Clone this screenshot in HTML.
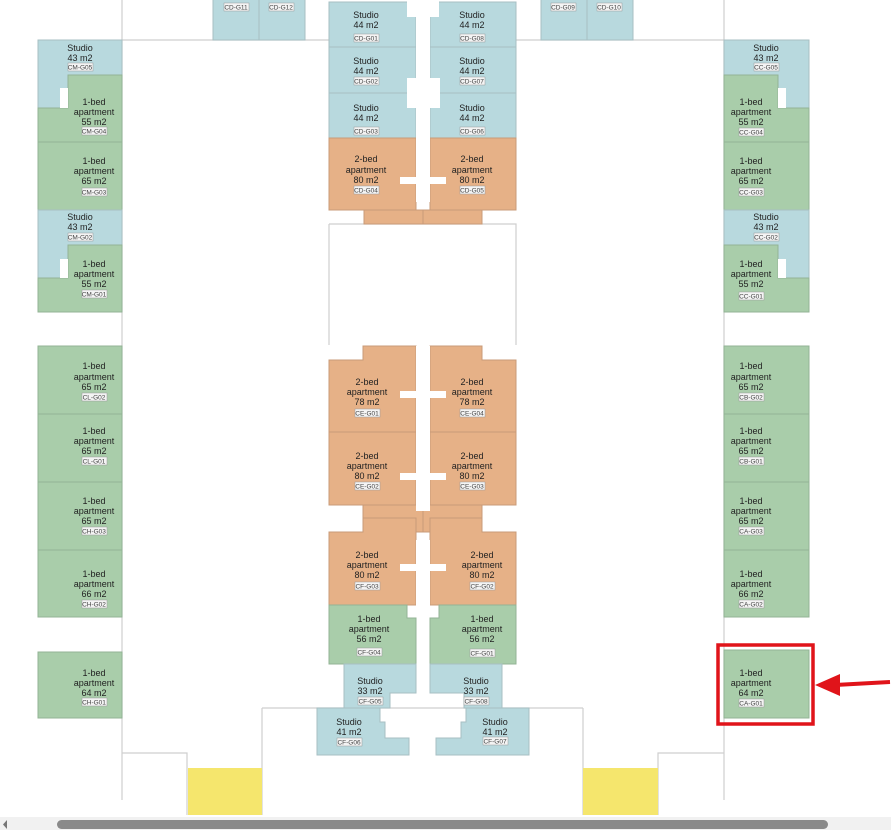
<!DOCTYPE html>
<html><head><meta charset="utf-8"><style>
html,body{margin:0;padding:0;background:#fff;}
svg{display:block;font-family:"Liberation Sans",sans-serif;}
.b{fill:#b8d9de;stroke:#a7bfc3;stroke-width:1}
.g{fill:#a9cdaa;stroke:#93b395;stroke-width:1}
.o{fill:#e6b187;stroke:#c89b78;stroke-width:1}
.w{fill:#fff}
.l{stroke:#cfcfcf;stroke-width:1.2;fill:none}
text{font-size:9px;fill:#222;text-anchor:middle}
.t{font-size:6.5px;fill:#444}
.tb{fill:#f4f4f4;stroke:#999;stroke-width:.5}
</style></head><body>
<svg width="891" height="830" viewBox="0 0 891 830">
<!-- outline lines -->
<path class="l" d="M122 0V800M724 0V800M122 40H329M516 40H724M329 224H516V345M329 224V345M262 708H583M262 708V815M583 708V815M122 753H187V815M724 753H658V815"/>
<!-- top small units -->
<rect class="b" x="213" y="-1" width="46" height="41"/><rect class="b" x="259" y="-1" width="46" height="41"/>
<rect class="b" x="541" y="-1" width="46" height="41"/><rect class="b" x="587" y="-1" width="46" height="41"/>
<g class="t"><rect class="tb" x="224" y="3" width="25" height="8"/><text class="t" x="236" y="9.5">CD-G11</text>
<rect class="tb" x="269" y="3" width="25" height="8"/><text class="t" x="281" y="9.5">CD-G12</text>
<rect class="tb" x="551" y="3" width="25" height="8"/><text class="t" x="563" y="9.5">CD-G09</text>
<rect class="tb" x="597" y="3" width="25" height="8"/><text class="t" x="609" y="9.5">CD-G10</text></g>

<!-- left column -->
<rect class="b" x="38" y="40" width="84" height="68"/>
<path class="g" d="M68 75H122V142H38V108H68Z"/>
<rect class="w" x="60" y="88" width="8" height="20"/>
<rect class="g" x="38" y="142" width="84" height="68"/>
<rect class="b" x="38" y="210" width="84" height="68"/>
<path class="g" d="M68 245H122V312H38V278H68Z"/>
<rect class="w" x="60" y="259" width="8" height="19"/>
<rect class="g" x="38" y="346" width="84" height="68"/>
<rect class="g" x="38" y="414" width="84" height="68"/>
<rect class="g" x="38" y="482" width="84" height="68"/>
<rect class="g" x="38" y="550" width="84" height="67"/>
<rect class="g" x="38" y="652" width="84" height="66"/>

<!-- right column -->
<rect class="b" x="724" y="40" width="85" height="68"/>
<path class="g" d="M724 75H778V108H809V142H724Z"/>
<rect class="w" x="778" y="88" width="8" height="20"/>
<rect class="g" x="724" y="142" width="85" height="68"/>
<rect class="b" x="724" y="210" width="85" height="68"/>
<path class="g" d="M724 245H778V278H809V312H724Z"/>
<rect class="w" x="778" y="259" width="8" height="19"/>
<rect class="g" x="724" y="346" width="85" height="68"/>
<rect class="g" x="724" y="414" width="85" height="68"/>
<rect class="g" x="724" y="482" width="85" height="68"/>
<rect class="g" x="724" y="550" width="85" height="67"/>
<rect class="g" x="724" y="650" width="85" height="68"/>
<rect x="718" y="645" width="95" height="79" fill="none" stroke="#e0141a" stroke-width="3.5"/>
<path d="M890 682L835 685" stroke="#e0141a" stroke-width="4"/>
<path d="M815 685L840 674L840 696Z" fill="#e0141a"/>

<!-- central top -->
<rect class="b" x="329" y="2" width="87" height="45"/><rect class="b" x="430" y="2" width="86" height="45"/>
<rect class="b" x="329" y="47" width="87" height="46"/><rect class="b" x="430" y="47" width="86" height="46"/>
<rect class="b" x="329" y="93" width="87" height="45"/><rect class="b" x="430" y="93" width="86" height="45"/>
<rect class="o" x="329" y="138" width="87" height="72"/><rect class="o" x="430" y="138" width="86" height="72"/>
<rect class="o" x="364" y="210" width="59" height="14"/><rect class="o" x="423" y="210" width="59" height="14"/>
<rect class="w" x="407" y="0" width="32" height="17"/>
<rect class="w" x="407" y="78" width="33" height="30"/>
<rect class="w" x="416" y="0" width="14" height="202"/>
<rect class="w" x="400" y="177" width="46" height="7"/>

<!-- central middle -->
<path class="o" d="M363 346H416V432H329V360H363Z"/><path class="o" d="M430 346H482V360H516V432H430Z"/>
<path class="o" d="M329 432H416V505H329Z"/><path class="o" d="M430 432H516V505H430Z"/>
<rect class="o" x="363" y="505" width="60" height="27"/><rect class="o" x="423" y="505" width="59" height="27"/>
<rect class="w" x="416" y="346" width="14" height="165"/>
<rect class="w" x="400" y="391" width="46" height="7"/><rect class="w" x="400" y="473" width="46" height="7"/>
<path class="o" d="M363 518H416V605H329V532H363Z"/><path class="o" d="M430 518H482V532H516V605H430Z"/>
<rect class="w" x="416" y="540" width="14" height="70"/>
<rect class="w" x="400" y="564" width="46" height="7"/>

<!-- central bottom -->
<path class="g" d="M329 605H407V618H416V664H329Z"/><path class="g" d="M439 605H516V664H430V618H439Z"/>
<path class="b" d="M344 664H416V693H390V708H344Z"/><path class="b" d="M430 664H502V708H464V693H430Z"/>
<path class="b" d="M317 708H380V722H385V738H409V755H317Z"/><path class="b" d="M466 708H529V755H436V738H461V722H466Z"/>

<!-- yellow -->
<rect x="188" y="768" width="74" height="47" fill="#f5e66d"/>
<rect x="583" y="768" width="75" height="47" fill="#f5e66d"/>

<!-- labels -->
<g>
<text x="80" y="51">Studio</text><text x="80" y="61">43 m2</text><rect class="tb" x="68" y="63" width="25" height="8"/><text class="t" x="80" y="69.5">CM-G05</text>
<text x="94" y="105">1-bed</text><text x="94" y="115">apartment</text><text x="94" y="125">55 m2</text><rect class="tb" x="82" y="127" width="25" height="8"/><text class="t" x="94" y="133.5">CM-G04</text>
<text x="94" y="164">1-bed</text><text x="94" y="174">apartment</text><text x="94" y="184">65 m2</text><rect class="tb" x="82" y="188" width="25" height="8"/><text class="t" x="94" y="194.5">CM-G03</text>
<text x="80" y="220">Studio</text><text x="80" y="230">43 m2</text><rect class="tb" x="68" y="233" width="25" height="8"/><text class="t" x="80" y="239.5">CM-G02</text>
<text x="94" y="267">1-bed</text><text x="94" y="277">apartment</text><text x="94" y="287">55 m2</text><rect class="tb" x="82" y="290" width="25" height="8"/><text class="t" x="94" y="296.5">CM-G01</text>

<text x="94" y="369">1-bed</text><text x="94" y="380">apartment</text><text x="94" y="390">65 m2</text><rect class="tb" x="82" y="393" width="25" height="8"/><text class="t" x="94" y="399.5">CL-G02</text>
<text x="94" y="434">1-bed</text><text x="94" y="444">apartment</text><text x="94" y="454">65 m2</text><rect class="tb" x="82" y="457" width="25" height="8"/><text class="t" x="94" y="463.5">CL-G01</text>
<text x="94" y="504">1-bed</text><text x="94" y="514">apartment</text><text x="94" y="524">65 m2</text><rect class="tb" x="82" y="527" width="25" height="8"/><text class="t" x="94" y="533.5">CH-G03</text>
<text x="94" y="577">1-bed</text><text x="94" y="587">apartment</text><text x="94" y="597">66 m2</text><rect class="tb" x="82" y="600" width="25" height="8"/><text class="t" x="94" y="606.5">CH-G02</text>
<text x="94" y="676">1-bed</text><text x="94" y="686">apartment</text><text x="94" y="696">64 m2</text><rect class="tb" x="82" y="698" width="25" height="8"/><text class="t" x="94" y="704.5">CH-G01</text>

<text x="766" y="51">Studio</text><text x="766" y="61">43 m2</text><rect class="tb" x="754" y="63" width="25" height="8"/><text class="t" x="766" y="69.5">CC-G05</text>
<text x="751" y="105">1-bed</text><text x="751" y="115">apartment</text><text x="751" y="125">55 m2</text><rect class="tb" x="739" y="128" width="25" height="8"/><text class="t" x="751" y="134.5">CC-G04</text>
<text x="751" y="164">1-bed</text><text x="751" y="174">apartment</text><text x="751" y="184">65 m2</text><rect class="tb" x="739" y="188" width="25" height="8"/><text class="t" x="751" y="194.5">CC-G03</text>
<text x="766" y="220">Studio</text><text x="766" y="230">43 m2</text><rect class="tb" x="754" y="233" width="25" height="8"/><text class="t" x="766" y="239.5">CC-G02</text>
<text x="751" y="267">1-bed</text><text x="751" y="277">apartment</text><text x="751" y="287">55 m2</text><rect class="tb" x="739" y="292" width="25" height="8"/><text class="t" x="751" y="298.5">CC-G01</text>

<text x="751" y="369">1-bed</text><text x="751" y="380">apartment</text><text x="751" y="390">65 m2</text><rect class="tb" x="739" y="393" width="25" height="8"/><text class="t" x="751" y="399.5">CB-G02</text>
<text x="751" y="434">1-bed</text><text x="751" y="444">apartment</text><text x="751" y="454">65 m2</text><rect class="tb" x="739" y="457" width="25" height="8"/><text class="t" x="751" y="463.5">CB-G01</text>
<text x="751" y="504">1-bed</text><text x="751" y="514">apartment</text><text x="751" y="524">65 m2</text><rect class="tb" x="739" y="527" width="25" height="8"/><text class="t" x="751" y="533.5">CA-G03</text>
<text x="751" y="577">1-bed</text><text x="751" y="587">apartment</text><text x="751" y="597">66 m2</text><rect class="tb" x="739" y="600" width="25" height="8"/><text class="t" x="751" y="606.5">CA-G02</text>
<text x="751" y="676">1-bed</text><text x="751" y="686">apartment</text><text x="751" y="696">64 m2</text><rect class="tb" x="739" y="699" width="25" height="8"/><text class="t" x="751" y="705.5">CA-G01</text>

<text x="366" y="18">Studio</text><text x="366" y="28">44 m2</text><rect class="tb" x="354" y="34" width="25" height="8"/><text class="t" x="366" y="40.5">CD-G01</text>
<text x="366" y="64">Studio</text><text x="366" y="74">44 m2</text><rect class="tb" x="354" y="77" width="25" height="8"/><text class="t" x="366" y="83.5">CD-G02</text>
<text x="366" y="111">Studio</text><text x="366" y="121">44 m2</text><rect class="tb" x="354" y="127" width="25" height="8"/><text class="t" x="366" y="133.5">CD-G03</text>
<text x="366" y="162">2-bed</text><text x="366" y="173">apartment</text><text x="366" y="183">80 m2</text><rect class="tb" x="354" y="186" width="25" height="8"/><text class="t" x="366" y="192.5">CD-G04</text>
<text x="472" y="18">Studio</text><text x="472" y="28">44 m2</text><rect class="tb" x="460" y="34" width="25" height="8"/><text class="t" x="472" y="40.5">CD-G08</text>
<text x="472" y="64">Studio</text><text x="472" y="74">44 m2</text><rect class="tb" x="460" y="77" width="25" height="8"/><text class="t" x="472" y="83.5">CD-G07</text>
<text x="472" y="111">Studio</text><text x="472" y="121">44 m2</text><rect class="tb" x="460" y="127" width="25" height="8"/><text class="t" x="472" y="133.5">CD-G06</text>
<text x="472" y="162">2-bed</text><text x="472" y="173">apartment</text><text x="472" y="183">80 m2</text><rect class="tb" x="460" y="186" width="25" height="8"/><text class="t" x="472" y="192.5">CD-G05</text>

<text x="367" y="385">2-bed</text><text x="367" y="395">apartment</text><text x="367" y="405">78 m2</text><rect class="tb" x="355" y="409" width="25" height="8"/><text class="t" x="367" y="415.5">CE-G01</text>
<text x="472" y="385">2-bed</text><text x="472" y="395">apartment</text><text x="472" y="405">78 m2</text><rect class="tb" x="460" y="409" width="25" height="8"/><text class="t" x="472" y="415.5">CE-G04</text>
<text x="367" y="459">2-bed</text><text x="367" y="469">apartment</text><text x="367" y="479">80 m2</text><rect class="tb" x="355" y="482" width="25" height="8"/><text class="t" x="367" y="488.5">CE-G02</text>
<text x="472" y="459">2-bed</text><text x="472" y="469">apartment</text><text x="472" y="479">80 m2</text><rect class="tb" x="460" y="482" width="25" height="8"/><text class="t" x="472" y="488.5">CE-G03</text>
<text x="367" y="558">2-bed</text><text x="367" y="568">apartment</text><text x="367" y="578">80 m2</text><rect class="tb" x="355" y="582" width="25" height="8"/><text class="t" x="367" y="588.5">CF-G03</text>
<text x="482" y="558">2-bed</text><text x="482" y="568">apartment</text><text x="482" y="578">80 m2</text><rect class="tb" x="470" y="582" width="25" height="8"/><text class="t" x="482" y="588.5">CF-G02</text>

<text x="369" y="622">1-bed</text><text x="369" y="632">apartment</text><text x="369" y="642">56 m2</text><rect class="tb" x="357" y="648" width="25" height="8"/><text class="t" x="369" y="654.5">CF-G04</text>
<text x="482" y="622">1-bed</text><text x="482" y="632">apartment</text><text x="482" y="642">56 m2</text><rect class="tb" x="470" y="649" width="25" height="8"/><text class="t" x="482" y="655.5">CF-G01</text>
<text x="370" y="684">Studio</text><text x="370" y="694">33 m2</text><rect class="tb" x="358" y="697" width="25" height="8"/><text class="t" x="370" y="703.5">CF-G05</text>
<text x="476" y="684">Studio</text><text x="476" y="694">33 m2</text><rect class="tb" x="464" y="697" width="25" height="8"/><text class="t" x="476" y="703.5">CF-G08</text>
<text x="349" y="725">Studio</text><text x="349" y="735">41 m2</text><rect class="tb" x="337" y="738" width="25" height="8"/><text class="t" x="349" y="744.5">CF-G06</text>
<text x="495" y="725">Studio</text><text x="495" y="735">41 m2</text><rect class="tb" x="483" y="737" width="25" height="8"/><text class="t" x="495" y="743.5">CF-G07</text>
</g>

<!-- scrollbar -->
<rect x="0" y="817" width="891" height="13" fill="#f1f1f1"/>
<rect x="57" y="820" width="771" height="9" rx="4.5" fill="#8a8a8a"/>
<path d="M7 820L3 824.5L7 829Z" fill="#777"/>
</svg>
</body></html>
